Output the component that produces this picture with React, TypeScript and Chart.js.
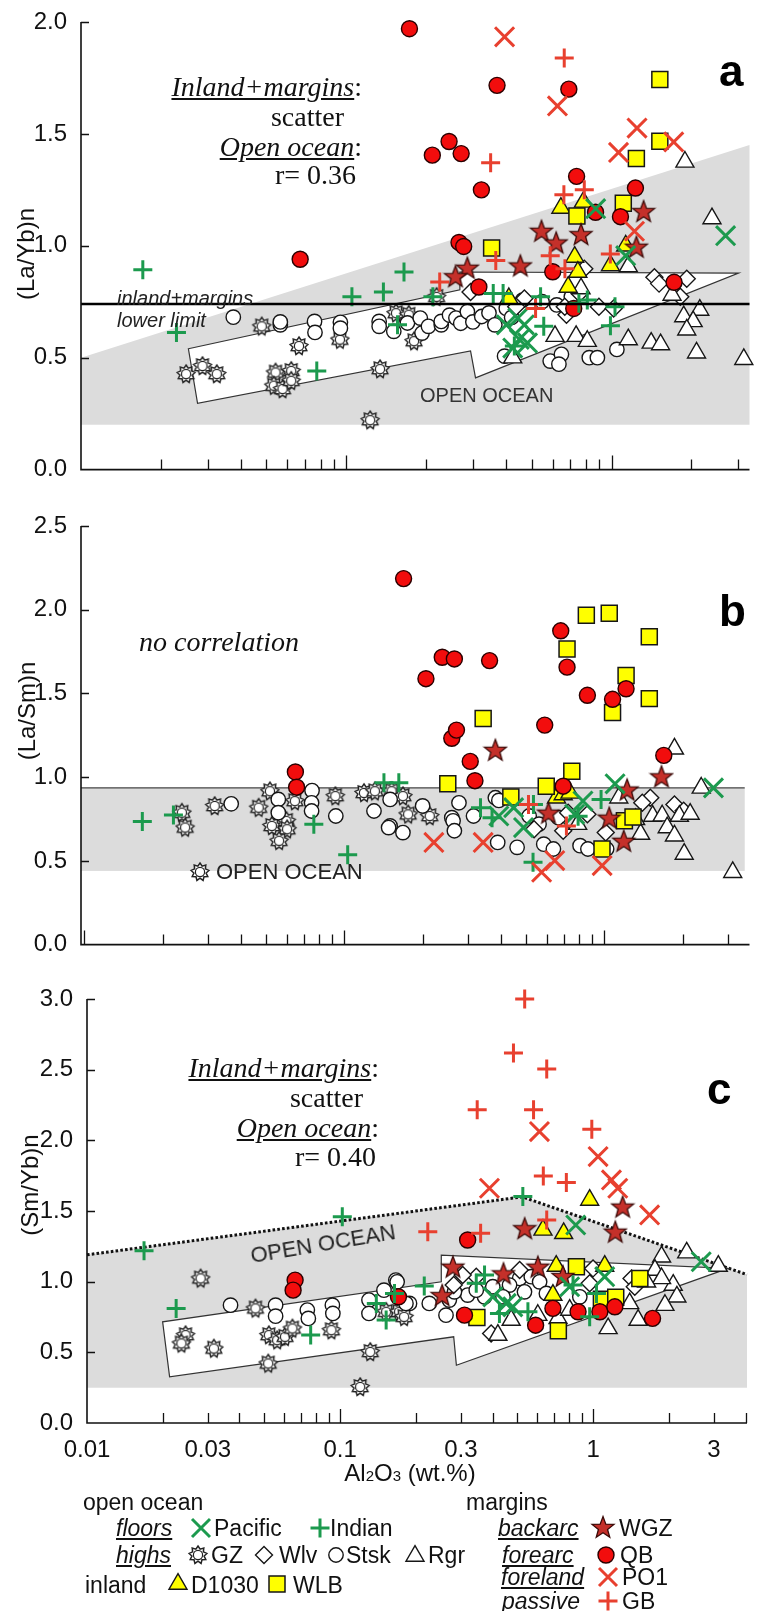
import React, { useEffect, useRef } from 'react';
import { Chart, registerables } from 'chart.js';

Chart.register(...registerables);

type P = [number, number];
type Kind = 'pacific' | 'indian' | 'gz' | 'wlv' | 'stsk' | 'rgr' | 'd1030' | 'wlb' | 'wgz' | 'qb' | 'po1' | 'gb';

// ---------------- Panel a : (La/Yb)n vs Al2O3 ----------------
const aPacific: P[] = [[0.871,1.166],[2.69,1.045],[1.13,0.956],[0.401,0.647],[0.443,0.677],[0.482,0.566],[0.424,0.543],[0.469,0.647],[0.449,0.582]];
const aIndian: P[] = [[0.0171,0.893],[0.0229,0.613],[0.0774,0.441],[0.105,0.772],[0.138,0.794],[0.165,0.883],[0.156,0.647],[0.212,0.772],[0.358,0.787],[0.39,0.787],[0.54,0.772],[0.555,0.64],[0.81,0.758],[1.03,0.728],[0.99,0.643],[0.43,0.552],[0.753,0.743]];
const aGZ: P[] = [[0.0249,0.427],[0.0287,0.463],[0.0325,0.427],[0.0541,0.434],[0.062,0.441],[0.0533,0.375],[0.0575,0.36],[0.062,0.397],[0.048,0.64],[0.0663,0.552],[0.0946,0.581],[0.134,0.449],[0.123,0.221],[0.154,0.699],[0.172,0.692],[0.18,0.574],[0.219,0.772]];
const aWlv: P[] = [[0.294,0.794],[0.469,0.765],[0.676,0.692],[0.789,0.897],[0.896,0.728],[1.45,0.86],[1.51,0.831],[1.92,0.853],[1.815,0.772],[0.757,0.787],[1.018,0.72],[0.437,0.728],[0.666,0.728]];
const aStsk: P[] = [[0.0375,0.681],[0.0564,0.647],[0.0564,0.66],[0.0759,0.662],[0.0762,0.613],[0.095,0.658],[0.095,0.632],[0.133,0.662],[0.133,0.64],[0.151,0.618],[0.17,0.655],[0.19,0.677],[0.193,0.61],[0.204,0.64],[0.228,0.647],[0.228,0.662],[0.245,0.69],[0.259,0.677],[0.27,0.654],[0.286,0.706],[0.3,0.66],[0.324,0.684],[0.345,0.7],[0.363,0.647],[0.401,0.72],[0.42,0.68],[0.462,0.757],[0.547,0.75],[0.621,0.736],[0.705,0.772],[0.395,0.507],[0.587,0.485],[0.647,0.515],[0.633,0.471],[0.824,0.5],[0.884,0.5],[1.047,0.537]];
const aRgr: P[] = [[1.89,1.375],[2.39,1.122],[1.156,0.908],[1.69,0.78],[1.87,0.684],[2.15,0.713],[2.03,0.662],[1.92,0.625],[2.09,0.522],[3.15,0.493],[1.156,0.581],[1.41,0.566],[1.53,0.559],[0.735,0.596],[0.612,0.596],[0.81,0.574],[0.424,0.5],[0.767,0.809]];
const aD1030: P[] = [[0.644,1.169],[0.783,1.196],[0.726,0.95],[0.99,0.912],[1.13,1.0],[0.686,0.816],[0.746,0.883],[0.41,0.765]];
const aWLB: P[] = [[1.52,1.743],[1.52,1.467],[1.24,1.39],[1.107,1.19],[0.74,1.133],[0.353,0.99]];
const aWGZ: P[] = [[0.544,1.067],[0.618,1.015],[0.767,1.052],[1.32,1.155],[1.24,0.996],[0.453,0.912],[0.286,0.902],[0.258,0.864]];
const aQB: P[] = [[0.173,1.97],[0.067,0.94],[0.37,1.717],[0.69,1.7],[0.211,1.405],[0.244,1.466],[0.271,1.412],[0.323,1.25],[0.738,1.31],[1.23,1.258],[0.87,1.15],[1.08,1.13],[0.266,1.015],[0.277,0.997],[0.316,0.816],[0.6,0.884],[1.72,0.837],[0.72,0.72]];
const aPO1: P[] = [[0.395,1.934],[0.625,1.625],[1.247,1.526],[1.062,1.417],[1.715,1.464],[1.22,1.065]];
const aGB: P[] = [[0.663,1.839],[0.35,1.371],[0.661,1.228],[0.789,1.25],[0.587,0.956],[0.366,0.934],[0.667,0.897],[0.989,0.963],[0.225,0.838],[0.517,0.72]];
const aShade: P[] = [[0.01,0.2],[0.01,0.5],[3.31,1.45],[3.31,0.2]];
const aArrow: P[] = [[0.0254,0.54],[0.268,0.803],[0.268,0.883],[3.01,0.878],[0.307,0.41],[0.294,0.53],[0.0275,0.296]];
const aLowerLimit = 0.74;
const aYTicks = [0, 0.5, 1, 1.5, 2];

// ---------------- Panel b : (La/Sm)n vs Al2O3 ----------------
const bPacific: P[] = [[1.1,0.96],[2.63,0.936],[0.489,0.699],[0.448,0.818],[0.393,0.768],[0.828,0.857],[0.769,0.778]];
const bIndian: P[] = [[0.0167,0.735],[0.022,0.774],[0.0763,0.719],[0.103,0.537],[0.532,0.492],[0.142,0.966],[0.162,0.966],[0.334,0.818],[0.534,0.837],[0.972,0.867],[0.793,0.766],[0.37,0.758]];
const bGZ: P[] = [[0.0237,0.788],[0.0244,0.699],[0.0317,0.828],[0.0468,0.818],[0.0517,0.916],[0.0526,0.709],[0.0598,0.739],[0.0602,0.689],[0.0561,0.62],[0.0645,0.857],[0.0923,0.887],[0.119,0.906],[0.131,0.916],[0.152,0.916],[0.168,0.887],[0.176,0.778],[0.213,0.768]];
const bWlv: P[] = [[1.503,0.877],[1.4,0.847],[1.862,0.837],[2.02,0.8],[1.013,0.669],[0.695,0.68],[0.861,0.778],[0.537,0.689],[0.726,0.788]];
const bStsk: P[] = [[0.0367,0.841],[0.0557,0.867],[0.0557,0.788],[0.0751,0.92],[0.0748,0.847],[0.0748,0.798],[0.0927,0.768],[0.13,0.798],[0.15,0.709],[0.168,0.669],[0.15,0.867],[0.148,0.699],[0.2,0.828],[0.259,0.758],[0.262,0.739],[0.276,0.847],[0.265,0.68],[0.314,0.768],[0.381,0.877],[0.393,0.861],[0.389,0.61],[0.462,0.581],[0.514,0.768],[0.561,0.719],[0.585,0.6],[0.637,0.571],[0.666,0.758],[0.807,0.591],[0.865,0.571],[1.021,0.571]];
const bRgr: P[] = [[1.862,1.169],[2.36,0.936],[1.137,0.877],[1.32,0.748],[1.535,0.768],[1.67,0.77],[1.746,0.699],[1.862,0.65],[2.03,0.541],[3.12,0.432],[1.38,0.66],[1.945,0.768],[2.14,0.78],[0.79,0.719]];
const bD1030: P[] = [[0.655,0.877],[0.695,0.896],[0.738,0.906]];
const bWLB: P[] = [[0.853,1.967],[1.045,1.979],[1.49,1.838],[0.719,1.765],[1.213,1.607],[1.49,1.469],[1.076,1.386],[0.342,1.351],[0.75,1.035],[0.25,0.96],[0.598,0.946],[0.437,0.881],[1.195,0.739],[1.29,0.762],[0.98,0.571]];
const bWGZ: P[] = [[0.381,1.163],[1.66,1.005],[1.224,0.926],[1.045,0.758],[1.188,0.62],[0.61,0.788]];
const bQB: P[] = [[0.169,2.186],[0.206,1.588],[0.238,1.716],[0.265,1.706],[0.362,1.696],[0.259,1.232],[0.27,1.281],[0.305,1.094],[0.318,0.979],[0.59,1.311],[0.68,1.874],[0.719,1.657],[0.861,1.489],[1.076,1.465],[1.213,1.528],[1.694,1.13],[0.0648,1.031],[0.0655,0.94],[0.695,0.946]];
const bPO1: P[] = [[0.221,0.61],[0.342,0.61],[0.574,0.432],[0.645,0.502],[0.981,0.472]];
const bGB: P[] = [[0.511,0.837],[0.715,0.709]];
const bBand = { xTo: 3.47, yLow: 0.44, yHigh: 0.936 };
const bYTicks = [0, 0.5, 1, 1.5, 2, 2.5];

// ---------------- Panel c : (Sm/Yb)n vs Al2O3 ----------------
const cPacific: P[] = [[0.853,1.401],[2.67,1.141],[1.11,1.035],[0.401,0.893],[0.453,0.846],[0.481,0.822],[0.807,0.964]];
const cIndian: P[] = [[0.0168,1.219],[0.102,1.46],[0.0225,0.811],[0.0765,0.622],[0.139,0.846],[0.164,0.917],[0.152,0.728],[0.527,1.602],[0.215,0.969],[0.372,1.047],[0.426,0.775],[0.552,0.787],[0.968,0.751],[1.03,0.917],[0.832,0.976],[0.345,0.988]];
const cGZ: P[] = [[0.0281,1.023],[0.0245,0.622],[0.0236,0.563],[0.0317,0.527],[0.0463,0.811],[0.0523,0.622],[0.0564,0.586],[0.0606,0.61],[0.0648,0.669],[0.052,0.421],[0.0924,0.657],[0.1315,0.503],[0.12,0.255],[0.152,0.787],[0.171,0.787],[0.179,0.751]];
const cWlv: P[] = [[0.345,1.035],[0.512,1.082],[0.998,1.094],[1.417,1.023],[1.459,0.964],[0.395,0.634],[0.305,1.047],[0.968,0.988],[0.281,0.976]];
const cStsk: P[] = [[0.0369,0.834],[0.0556,0.834],[0.0556,0.756],[0.0742,0.799],[0.0749,0.74],[0.0932,0.834],[0.0936,0.775],[0.166,1.011],[0.149,0.94],[0.13,0.87],[0.13,0.775],[0.188,0.846],[0.182,0.846],[0.225,0.846],[0.27,0.87],[0.319,0.905],[0.262,0.763],[0.401,0.964],[0.512,1.023],[0.569,1.035],[0.614,0.999],[0.653,0.917],[0.535,0.928],[0.467,0.976],[0.885,0.893],[0.44,0.893],[0.372,0.893],[0.283,0.928],[0.345,0.94],[0.168,0.999]];
const cRgr: P[] = [[1.862,1.176],[2.34,1.205],[3.12,1.11],[1.753,1.082],[2.07,0.976],[1.862,1.023],[1.625,0.999],[2.14,0.893],[1.92,0.834],[1.393,0.846],[1.504,0.728],[1.145,0.669],[0.726,0.74],[0.807,0.799],[0.604,0.763],[0.474,0.728],[0.42,0.622]];
const cD1030: P[] = [[0.968,1.578],[0.633,1.366],[0.764,1.342],[0.714,1.11],[1.11,1.11],[0.693,0.905]];
const cWLB: P[] = [[0.858,1.106],[0.347,0.747],[0.728,0.652],[1.077,0.875],[1.227,0.889],[1.528,1.023]];
const cWGZ: P[] = [[0.536,1.378],[1.307,1.531],[1.222,1.354],[0.279,1.106],[0.442,1.059],[0.604,1.106],[0.759,1.04],[0.253,0.905]];
const cQB: P[] = [[0.0664,1.011],[0.0652,0.94],[0.319,1.295],[0.31,0.763],[0.592,0.692],[0.693,0.811],[0.871,0.787],[1.062,0.787],[1.217,0.822],[1.715,0.74],[0.17,0.893]];
const cPO1: P[] = [[0.613,2.062],[1.045,1.885],[1.18,1.72],[1.25,1.661],[1.67,1.472],[0.389,1.661]];
const cGB: P[] = [[0.536,3.0],[0.484,2.618],[0.655,2.505],[0.348,2.216],[0.581,2.216],[0.987,2.079],[0.635,1.748],[0.783,1.701],[0.222,1.354],[0.359,1.342],[0.655,1.437]];
const cShadeTop: P[] = [[0.01,1.19],[0.524,1.6],[4.05,1.05]];
const cShadeBottom = 0.25;
const cArrow: P[] = [[0.0199,0.716],[0.0212,0.326],[0.281,0.61],[0.288,0.409],[3.41,1.094],[0.251,1.188],[0.251,0.999]];
const cYTicks = [0, 0.5, 1, 1.5, 2, 2.5, 3];
const xTickLabels = [0.01, 0.03, 0.1, 0.3, 1, 3];

// ---------------- styles ----------------
const W = 766;
const SANS = '"Liberation Sans", Arial, Helvetica, sans-serif';
const SERIF = '"Liberation Serif", "Times New Roman", serif';
const GREEN = '#1c9a4e';
const RED = '#e8402f';
const QBRED = '#f20d0d';
const STARRED = '#c4302a';
const YELLOW = '#ffff00';
const GRAY = '#dcdcdc';
const INK = '#161616';
const LEG = 23;

const ORDER: Kind[] = ['po1', 'gb', 'pacific', 'indian', 'qb', 'wgz', 'wlb', 'd1030', 'rgr', 'wlv', 'stsk', 'gz'];
const NAMES: Record<Kind, string> = { pacific: 'Pacific', indian: 'Indian', gz: 'GZ', wlv: 'Wlv', stsk: 'Stsk', rgr: 'Rgr', d1030: 'D1030', wlb: 'WLB', wgz: 'WGZ', qb: 'QB', po1: 'PO1', gb: 'GB' };

function pathStar(ctx: CanvasRenderingContext2D, cx: number, cy: number, n: number, ro: number, ri: number) {
  ctx.beginPath();
  for (let i = 0; i < 2 * n; i++) {
    const r = i % 2 === 0 ? ro : ri;
    const a = -Math.PI / 2 + (i * Math.PI) / n;
    const x = cx + r * Math.cos(a);
    const y = cy + r * Math.sin(a);
    if (i === 0) ctx.moveTo(x, y); else ctx.lineTo(x, y);
  }
  ctx.closePath();
}

function drawSym(ctx: CanvasRenderingContext2D, kind: Kind, cx: number, cy: number) {
  ctx.save();
  const fs = (fill: string, stroke: string, w: number) => {
    ctx.fillStyle = fill; ctx.fill(); ctx.strokeStyle = stroke; ctx.lineWidth = w; ctx.stroke();
  };
  switch (kind) {
    case 'pacific':
    case 'po1': {
      const d = 9;
      ctx.beginPath();
      ctx.moveTo(cx - d, cy - d); ctx.lineTo(cx + d, cy + d);
      ctx.moveTo(cx + d, cy - d); ctx.lineTo(cx - d, cy + d);
      ctx.strokeStyle = kind === 'pacific' ? GREEN : RED; ctx.lineWidth = 3; ctx.stroke();
      break;
    }
    case 'indian':
    case 'gb': {
      const d = 9.5;
      ctx.beginPath();
      ctx.moveTo(cx - d, cy); ctx.lineTo(cx + d, cy);
      ctx.moveTo(cx, cy - d); ctx.lineTo(cx, cy + d);
      ctx.strokeStyle = kind === 'indian' ? GREEN : RED; ctx.lineWidth = 3; ctx.stroke();
      break;
    }
    case 'gz': {
      pathStar(ctx, cx, cy, 9, 9, 6.2);
      fs('#fff', '#222', 1.5);
      ctx.beginPath(); ctx.arc(cx, cy, 4.6, 0, Math.PI * 2);
      ctx.strokeStyle = '#222'; ctx.lineWidth = 1.2; ctx.stroke();
      break;
    }
    case 'wgz': {
      pathStar(ctx, cx, cy + 1, 5, 11.5, 4.8);
      fs(STARRED, '#3b0a08', 1.3);
      break;
    }
    case 'wlv': {
      const d = 8.5;
      ctx.beginPath(); ctx.moveTo(cx, cy - d); ctx.lineTo(cx + d, cy); ctx.lineTo(cx, cy + d); ctx.lineTo(cx - d, cy); ctx.closePath();
      fs('#fff', INK, 1.4);
      break;
    }
    case 'stsk':
    case 'qb': {
      ctx.beginPath(); ctx.arc(cx, cy, kind === 'qb' ? 8 : 7.2, 0, Math.PI * 2);
      fs(kind === 'qb' ? QBRED : '#fff', kind === 'qb' ? '#2a0000' : INK, 1.4);
      break;
    }
    case 'rgr':
    case 'd1030': {
      const r = 10.4;
      ctx.beginPath();
      for (let i = 0; i < 3; i++) {
        const a = -Math.PI / 2 + (i * 2 * Math.PI) / 3;
        const x = cx + r * Math.cos(a), y = cy + 2 + r * Math.sin(a);
        if (i === 0) ctx.moveTo(x, y); else ctx.lineTo(x, y);
      }
      ctx.closePath();
      fs(kind === 'd1030' ? YELLOW : '#fff', INK, 1.4);
      break;
    }
    case 'wlb': {
      ctx.beginPath(); ctx.rect(cx - 8, cy - 8, 16, 16);
      fs(YELLOW, INK, 1.5);
      break;
    }
  }
  ctx.restore();
}

function symCanvas(kind: Kind, size: number) {
  const c = document.createElement('canvas');
  c.width = size; c.height = size;
  drawSym(c.getContext('2d')!, kind, size / 2, size / 2);
  return c;
}

function dsStyle(kind: Kind, imgs: Record<string, HTMLCanvasElement>): any {
  switch (kind) {
    case 'pacific': return { pointStyle: 'crossRot', pointRadius: 13.5, pointBorderColor: GREEN, pointBackgroundColor: GREEN, pointBorderWidth: 3 };
    case 'po1': return { pointStyle: 'crossRot', pointRadius: 13.5, pointBorderColor: RED, pointBackgroundColor: RED, pointBorderWidth: 3 };
    case 'indian': return { pointStyle: 'cross', pointRadius: 9.5, pointBorderColor: GREEN, pointBackgroundColor: GREEN, pointBorderWidth: 3 };
    case 'gb': return { pointStyle: 'cross', pointRadius: 9.5, pointBorderColor: RED, pointBackgroundColor: RED, pointBorderWidth: 3 };
    case 'qb': return { pointStyle: 'circle', pointRadius: 8, pointBackgroundColor: QBRED, pointBorderColor: '#2a0000', pointBorderWidth: 1.4 };
    case 'stsk': return { pointStyle: 'circle', pointRadius: 7.2, pointBackgroundColor: '#fff', pointBorderColor: INK, pointBorderWidth: 1.4 };
    case 'wlb': return { pointStyle: 'rect', pointRadius: 11.3, pointBackgroundColor: YELLOW, pointBorderColor: INK, pointBorderWidth: 1.5 };
    case 'd1030': return { pointStyle: 'triangle', pointRadius: 10.4, pointBackgroundColor: YELLOW, pointBorderColor: INK, pointBorderWidth: 1.4 };
    case 'rgr': return { pointStyle: 'triangle', pointRadius: 10.4, pointBackgroundColor: '#fff', pointBorderColor: INK, pointBorderWidth: 1.4 };
    case 'wlv': return { pointStyle: 'rectRot', pointRadius: 8.5, pointBackgroundColor: '#fff', pointBorderColor: INK, pointBorderWidth: 1.4 };
    case 'gz': return { pointStyle: imgs.gz, pointRadius: 9 };
    case 'wgz': return { pointStyle: imgs.wgz, pointRadius: 12 };
  }
}

type Draw = (ctx: CanvasRenderingContext2D, x: any, y: any, area: any) => void;

type PanelCfg = {
  top: number; height: number; yWidth: number; padTop: number; padRight: number; xHeight: number;
  xMin: number; xMax: number; yMax: number; yTicks: number[]; xLabels: boolean;
  data: Record<Kind, P[]>; under: Draw; over?: Draw;
};

function poly(ctx: CanvasRenderingContext2D, x: any, y: any, pts: P[]) {
  ctx.beginPath();
  pts.forEach(([vx, vy], i) => {
    const px = x.getPixelForValue(vx), py = y.getPixelForValue(vy);
    if (i === 0) ctx.moveTo(px, py); else ctx.lineTo(px, py);
  });
  ctx.closePath();
}

function minorTicks(min: number, max: number) {
  const out: { v: number; major: boolean }[] = [];
  for (let e = -3; e <= 1; e++) {
    for (let m = 1; m <= 9; m++) {
      const v = Number((m * Math.pow(10, e)).toPrecision(3));
      if (v > min * 1.001 && v < max * 0.999) out.push({ v, major: m === 1 });
    }
  }
  return out;
}

function Panel({ cfg }: { cfg: PanelCfg }) {
  const ref = useRef<HTMLCanvasElement>(null);
  useEffect(() => {
    const imgs = { gz: symCanvas('gz', 22), wgz: symCanvas('wgz', 26) };
    const datasets = ORDER.map((k) => ({
      label: NAMES[k],
      data: cfg.data[k].map(([x, y]) => ({ x, y })),
      showLine: false,
      clip: false as any,
      ...dsStyle(k, imgs),
    }));
    const deco = {
      id: 'deco',
      beforeDatasetsDraw(chart: any) {
        const { ctx, chartArea } = chart;
        ctx.save();
        cfg.under(ctx, chart.scales.x, chart.scales.y, chartArea);
        ctx.restore();
      },
      afterDatasetsDraw(chart: any) {
        if (!cfg.over) return;
        const { ctx, chartArea } = chart;
        ctx.save();
        cfg.over(ctx, chart.scales.x, chart.scales.y, chartArea);
        ctx.restore();
      },
      afterDraw(chart: any) {
        const { ctx, chartArea: a } = chart;
        const xs = chart.scales.x, ys = chart.scales.y;
        ctx.save();
        ctx.strokeStyle = '#111';
        ctx.lineWidth = 1.6;
        ctx.beginPath();
        ctx.moveTo(a.left, a.top); ctx.lineTo(a.left, a.bottom); ctx.lineTo(a.right, a.bottom);
        ctx.stroke();
        ctx.lineWidth = 1.3;
        ctx.beginPath();
        for (const t of minorTicks(cfg.xMin, cfg.xMax)) {
          const px = Math.round(xs.getPixelForValue(t.v)) + 0.5;
          ctx.moveTo(px, a.bottom); ctx.lineTo(px, a.bottom - (t.major ? 14 : 10));
        }
        for (const v of cfg.yTicks) {
          if (v === 0) continue;
          const py = Math.round(ys.getPixelForValue(v)) + 0.5;
          ctx.moveTo(a.left, py); ctx.lineTo(a.left + 8, py);
        }
        ctx.stroke();
        ctx.restore();
      },
    };
    const chart = new Chart(ref.current!, {
      type: 'scatter',
      data: { datasets } as any,
      options: {
        responsive: false,
        animation: false,
        devicePixelRatio: 1,
        events: [],
        layout: { padding: { top: cfg.padTop, right: cfg.padRight, left: 0, bottom: 0 } },
        plugins: { legend: { display: false }, tooltip: { enabled: false } },
        scales: {
          x: {
            type: 'logarithmic',
            min: cfg.xMin,
            max: cfg.xMax,
            afterFit: (s: any) => { s.height = cfg.xHeight; },
            afterBuildTicks: (s: any) => { s.ticks = xTickLabels.map((v) => ({ value: v })); },
            grid: { display: false },
            border: { display: false },
            ticks: {
              display: cfg.xLabels,
              autoSkip: false,
              maxRotation: 0,
              padding: 5,
              color: '#111',
              font: { family: SANS, size: 24 },
              callback: (v: any) => String(v),
            },
          },
          y: {
            type: 'linear',
            min: 0,
            max: cfg.yMax,
            afterFit: (s: any) => { s.width = cfg.yWidth; },
            afterBuildTicks: (s: any) => { s.ticks = cfg.yTicks.map((v) => ({ value: v })); },
            grid: { display: false },
            border: { display: false },
            ticks: {
              padding: 6,
              color: '#111',
              font: { family: SANS, size: 24 },
              callback: (v: any) => Number(v).toFixed(1),
            },
          },
        },
      } as any,
      plugins: [deco],
    });
    return () => chart.destroy();
  }, []);
  return (
    <canvas
      ref={ref}
      width={W}
      height={cfg.height}
      style={{ position: 'absolute', left: 0, top: cfg.top, width: W, height: cfg.height }}
    />
  );
}

const panelA: PanelCfg = {
  top: 0, height: 490, yWidth: 81, padTop: 22, padRight: 0, xHeight: 15,
  xMin: 0.01, xMax: 3.31, yMax: 2, yTicks: aYTicks, xLabels: false,
  data: { pacific: aPacific, indian: aIndian, gz: aGZ, wlv: aWlv, stsk: aStsk, rgr: aRgr, d1030: aD1030, wlb: aWLB, wgz: aWGZ, qb: aQB, po1: aPO1, gb: aGB },
  under: (ctx, x, y) => {
    poly(ctx, x, y, aShade); ctx.fillStyle = GRAY; ctx.fill();
    poly(ctx, x, y, aArrow); ctx.fillStyle = '#fff'; ctx.fill();
    ctx.strokeStyle = '#333'; ctx.lineWidth = 1.2; ctx.stroke();
  },
  over: (ctx, x, y, a) => {
    const py = y.getPixelForValue(aLowerLimit);
    ctx.beginPath(); ctx.moveTo(a.left, py); ctx.lineTo(a.right, py);
    ctx.strokeStyle = '#000'; ctx.lineWidth = 2.6; ctx.stroke();
  },
};

const panelB: PanelCfg = {
  top: 490, height: 475, yWidth: 81, padTop: 36, padRight: 11, xHeight: 17,
  xMin: 0.0097, xMax: 3.62, yMax: 2.5, yTicks: bYTicks, xLabels: false,
  data: { pacific: bPacific, indian: bIndian, gz: bGZ, wlv: bWlv, stsk: bStsk, rgr: bRgr, d1030: bD1030, wlb: bWLB, wgz: bWGZ, qb: bQB, po1: bPO1, gb: bGB },
  under: (ctx, x, y, a) => {
    const x1 = x.getPixelForValue(bBand.xTo);
    const yT = y.getPixelForValue(bBand.yHigh), yB = y.getPixelForValue(bBand.yLow);
    ctx.fillStyle = GRAY; ctx.fillRect(a.left, yT, x1 - a.left, yB - yT);
    ctx.beginPath(); ctx.moveTo(a.left, yT); ctx.lineTo(x1, yT);
    ctx.strokeStyle = '#444'; ctx.lineWidth = 1.2; ctx.stroke();
  },
};

const panelC: PanelCfg = {
  top: 965, height: 540, yWidth: 87, padTop: 34, padRight: 19, xHeight: 82,
  xMin: 0.01, xMax: 4.05, yMax: 3, yTicks: cYTicks, xLabels: true,
  data: { pacific: cPacific, indian: cIndian, gz: cGZ, wlv: cWlv, stsk: cStsk, rgr: cRgr, d1030: cD1030, wlb: cWLB, wgz: cWGZ, qb: cQB, po1: cPO1, gb: cGB },
  under: (ctx, x, y) => {
    const first = cShadeTop[0], last = cShadeTop[cShadeTop.length - 1];
    poly(ctx, x, y, [[first[0], cShadeBottom], ...cShadeTop, [last[0], cShadeBottom]]);
    ctx.fillStyle = GRAY; ctx.fill();
    ctx.beginPath();
    cShadeTop.forEach(([vx, vy], i) => {
      const px = x.getPixelForValue(vx), py = y.getPixelForValue(vy);
      if (i === 0) ctx.moveTo(px, py); else ctx.lineTo(px, py);
    });
    ctx.setLineDash([2.6, 2.2]);
    ctx.strokeStyle = '#111'; ctx.lineWidth = 3; ctx.stroke();
    ctx.setLineDash([]);
    poly(ctx, x, y, cArrow); ctx.fillStyle = '#fff'; ctx.fill();
    ctx.strokeStyle = '#333'; ctx.lineWidth = 1.2; ctx.stroke();
  },
};

function Sym({ k, x, y }: { k: Kind; x: number; y: number }) {
  const ref = useRef<HTMLCanvasElement>(null);
  useEffect(() => {
    const ctx = ref.current!.getContext('2d')!;
    ctx.clearRect(0, 0, 30, 30);
    drawSym(ctx, k, 15, 15);
  }, [k]);
  return <canvas ref={ref} width={30} height={30} style={{ position: 'absolute', left: x - 15, top: y - 15 }} />;
}

type TP = { l?: number; r?: number; y: number; s: number; f?: string; i?: boolean; b?: boolean; u?: boolean; c?: string; children: React.ReactNode };
function T({ l, r, y, s, f, i, b, u, c, children }: TP) {
  const st: React.CSSProperties = {
    position: 'absolute', top: y, lineHeight: 0, whiteSpace: 'nowrap', fontSize: s,
    fontFamily: f ?? SANS, fontStyle: i ? 'italic' : 'normal', fontWeight: b ? 700 : 400,
    color: c ?? '#111', textDecoration: u ? 'underline' : 'none',
  };
  if (l !== undefined) st.left = l; else st.right = W - (r as number);
  return <div style={st}>{children}</div>;
}

function Rot({ x, y, deg, s, c, children }: { x: number; y: number; deg: number; s: number; c?: string; children: React.ReactNode }) {
  return (
    <div style={{ position: 'absolute', left: x, top: y, width: 0, height: 0, transform: `rotate(${deg}deg)`, transformOrigin: '0 0' }}>
      <div style={{ position: 'absolute', left: 0, top: 0, transform: 'translateX(-50%)', whiteSpace: 'nowrap', lineHeight: 0, fontSize: s, fontFamily: SANS, color: c ?? '#111' }}>
        {children}
      </div>
    </div>
  );
}

const U = ({ children }: { children: React.ReactNode }) => <span style={{ textDecoration: 'underline', fontStyle: 'italic' }}>{children}</span>;

export default function App() {
  const note = 28;
  return (
    <div style={{ position: 'absolute', left: 0, top: 0, width: W, height: 1611, background: '#fff', overflow: 'hidden' }}>
      <Panel cfg={panelA} />
      <Panel cfg={panelB} />
      <Panel cfg={panelC} />

      {/* panel a texts */}
      <Rot x={26} y={254} deg={-90} s={24}>(La/Yb)n</Rot>
      <T r={362} y={87} s={note} f={SERIF}><U>Inland+margins</U>:</T>
      <T r={344} y={117} s={note} f={SERIF}>scatter</T>
      <T r={362} y={147} s={note} f={SERIF}><U>Open ocean</U>:</T>
      <T r={356} y={175} s={note} f={SERIF}>r= 0.36</T>
      <T l={117} y={298} s={20} i c="#222">inland+margins</T>
      <T l={117} y={320} s={20} i c="#222">lower limit</T>
      <T l={420} y={395} s={20} c="#333">OPEN OCEAN</T>
      <T l={719} y={71} s={44} b c="#000">a</T>

      {/* panel b texts */}
      <Rot x={27} y={711} deg={-90} s={24}>(La/Sm)n</Rot>
      <T l={139} y={642} s={note} f={SERIF} i>no correlation</T>
      <Sym k="gz" x={200} y={872} />
      <T l={216} y={872} s={22} c="#222">OPEN OCEAN</T>
      <T l={719} y={611} s={44} b c="#000">b</T>

      {/* panel c texts */}
      <Rot x={30} y={1185} deg={-90} s={24}>(Sm/Yb)n</Rot>
      <T r={379} y={1068} s={note} f={SERIF}><U>Inland+margins</U>:</T>
      <T r={363} y={1098} s={note} f={SERIF}>scatter</T>
      <T r={379} y={1128} s={note} f={SERIF}><U>Open ocean</U>:</T>
      <T r={376} y={1157} s={note} f={SERIF}>r= 0.40</T>
      <Rot x={323} y={1244} deg={-9.5} s={22} c="#222">OPEN OCEAN</Rot>
      <T l={707} y={1089} s={44} b c="#000">c</T>

      {/* x title */}
      <Rot x={410} y={1473} deg={0} s={24}>
        Al<span style={{ fontSize: 15 }}>2</span>O<span style={{ fontSize: 15 }}>3</span> (wt.%)
      </Rot>

      {/* legend */}
      <T l={83} y={1502} s={LEG}>open ocean</T>
      <T l={466} y={1502} s={LEG}>margins</T>

      <T l={116} y={1528} s={LEG} i u>floors</T>
      <Sym k="pacific" x={201} y={1528} />
      <T l={214} y={1528} s={LEG}>Pacific</T>
      <Sym k="indian" x={320} y={1528} />
      <T l={330} y={1528} s={LEG}>Indian</T>
      <T l={498} y={1528} s={LEG} i u>backarc</T>
      <Sym k="wgz" x={603} y={1527} />
      <T l={619} y={1528} s={LEG}>WGZ</T>

      <T l={116} y={1555} s={LEG} i u>highs</T>
      <Sym k="gz" x={198} y={1555} />
      <T l={211} y={1555} s={LEG}>GZ</T>
      <Sym k="wlv" x={264} y={1555} />
      <T l={279} y={1555} s={LEG}>Wlv</T>
      <Sym k="stsk" x={336} y={1555} />
      <T l={346} y={1555} s={LEG}>Stsk</T>
      <Sym k="rgr" x={415} y={1554} />
      <T l={428} y={1555} s={LEG}>Rgr</T>
      <T l={502} y={1555} s={LEG} i u>forearc</T>
      <Sym k="qb" x={606} y={1555} />
      <T l={620} y={1555} s={LEG}>QB</T>

      <T l={85} y={1585} s={LEG}>inland</T>
      <Sym k="d1030" x={178} y={1582} />
      <T l={191} y={1585} s={LEG}>D1030</T>
      <Sym k="wlb" x={277} y={1584} />
      <T l={293} y={1585} s={LEG}>WLB</T>
      <T l={501} y={1577} s={LEG} i u>foreland</T>
      <Sym k="po1" x={608} y={1577} />
      <T l={622} y={1577} s={LEG}>PO1</T>
      <T l={502} y={1601} s={LEG} i u>passive</T>
      <Sym k="gb" x={608} y={1601} />
      <T l={622} y={1601} s={LEG}>GB</T>
    </div>
  );
}
